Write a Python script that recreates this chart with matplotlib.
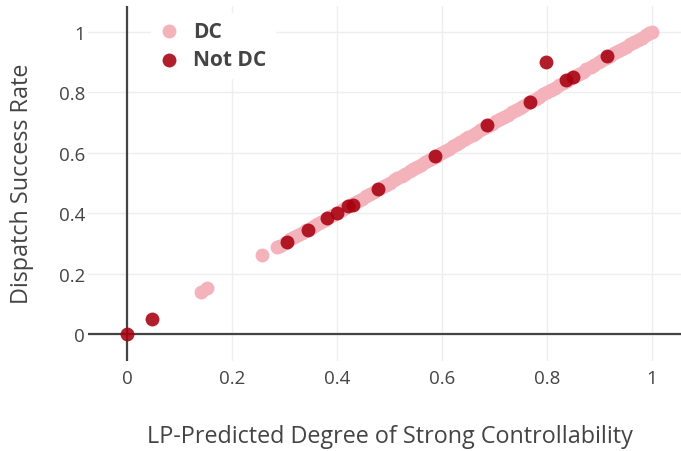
import matplotlib
matplotlib.use("Agg")
import matplotlib.pyplot as plt
from matplotlib.ticker import FuncFormatter

plt.rcParams["font.family"] = ["Open Sans", "DejaVu Sans"]

# DC instances: LP-predicted degree vs. dispatch success rate
dc_x = [0.140, 0.152, 0.258, 0.285, 0.292, 0.300, 0.310, 0.318, 0.325, 0.333,
        0.340, 0.350, 0.356, 0.362, 0.370, 0.377, 0.385, 0.392, 0.400, 0.410,
        0.415, 0.425, 0.432, 0.440, 0.447, 0.455, 0.463, 0.470, 0.478, 0.485,
        0.493, 0.500, 0.508, 0.515, 0.523, 0.530, 0.538, 0.545, 0.553, 0.560,
        0.568, 0.575, 0.583, 0.590, 0.598, 0.605, 0.613, 0.620, 0.628, 0.635,
        0.643, 0.650, 0.658, 0.665, 0.673, 0.680, 0.688, 0.695, 0.703, 0.710,
        0.718, 0.725, 0.733, 0.740, 0.748, 0.755, 0.763, 0.770, 0.778, 0.785,
        0.793, 0.800, 0.808, 0.815, 0.823, 0.830, 0.838, 0.845, 0.853, 0.860,
        0.868, 0.875, 0.883, 0.890, 0.898, 0.905, 0.913, 0.920, 0.928, 0.935,
        0.943, 0.950, 0.958, 0.965, 0.973, 0.980, 0.988, 0.995, 1.000]
dc_y = [0.140, 0.151, 0.261, 0.288, 0.293, 0.302, 0.313, 0.321, 0.328, 0.336,
        0.343, 0.352, 0.358, 0.364, 0.372, 0.379, 0.386, 0.393, 0.401, 0.411,
        0.416, 0.426, 0.433, 0.441, 0.448, 0.456, 0.464, 0.471, 0.479, 0.486,
        0.494, 0.501, 0.509, 0.516, 0.524, 0.531, 0.539, 0.546, 0.554, 0.561,
        0.569, 0.576, 0.584, 0.591, 0.599, 0.606, 0.614, 0.621, 0.629, 0.636,
        0.644, 0.651, 0.659, 0.666, 0.674, 0.681, 0.689, 0.696, 0.704, 0.711,
        0.719, 0.726, 0.734, 0.741, 0.749, 0.756, 0.764, 0.771, 0.779, 0.786,
        0.794, 0.801, 0.809, 0.816, 0.824, 0.831, 0.839, 0.846, 0.854, 0.861,
        0.869, 0.876, 0.884, 0.891, 0.899, 0.906, 0.914, 0.921, 0.929, 0.936,
        0.944, 0.951, 0.959, 0.966, 0.974, 0.981, 0.989, 0.996, 1.000]

# Not DC instances
ndc_x = [0.000, 0.048, 0.305, 0.345, 0.381, 0.400, 0.421, 0.430, 0.478,
         0.587, 0.686, 0.768, 0.797, 0.836, 0.850, 0.914]
ndc_y = [0.000, 0.050, 0.305, 0.343, 0.384, 0.400, 0.424, 0.427, 0.480,
         0.589, 0.692, 0.769, 0.901, 0.841, 0.851, 0.920]

ticks = [0, 0.2, 0.4, 0.6, 0.8, 1]
PINK = "#f4b2bb"
RED = "#a8000f"
TXT = "#444444"

fig = plt.figure(figsize=(6.81, 4.52), dpi=100)
ax = fig.add_axes([88 / 681, 90 / 452, 593 / 681, 355 / 452])

ax.scatter(dc_x, dc_y, s=100, color=PINK, linewidths=0, label="DC", zorder=3)
ax.scatter(ndc_x, ndc_y, s=100, color=RED, alpha=0.88, linewidths=0,
           label="Not DC", zorder=4)

ax.set_xlim(-0.0743, 1.055)
ax.set_ylim(-0.0894, 1.086)
ax.set_xticks(ticks)
ax.set_yticks(ticks)
fmt = FuncFormatter(lambda v, p: f"{v:g}")
ax.xaxis.set_major_formatter(fmt)
ax.yaxis.set_major_formatter(fmt)
ax.grid(True, color="#eeeeee", linewidth=1, zorder=0)
ax.set_axisbelow(True)
for sp in ax.spines.values():
    sp.set_visible(False)
ax.axhline(0, color=TXT, linewidth=1.6, zorder=1)
ax.axvline(0, color=TXT, linewidth=1.6, zorder=1)
ax.tick_params(length=0, labelsize=13.5, labelcolor=TXT)
ax.tick_params(axis="x", pad=6)
ax.tick_params(axis="y", pad=2)

ax.set_xlabel("LP-Predicted Degree of Strong Controllability", fontsize=16.8,
              color=TXT, va="center")
ax.xaxis.set_label_coords(0.51, -0.211)
ax.set_ylabel("Dispatch Success Rate", fontsize=16.8, color=TXT, va="center")
ax.yaxis.set_label_coords(-0.111, 0.503)

leg = ax.legend(loc="upper left", bbox_to_anchor=(0.088, 1.011), frameon=True,
                prop={"size": 15, "weight": "bold"}, handlelength=1.0,
                handletextpad=0.65, labelspacing=0.35, borderpad=0.4,
                scatterpoints=1)
leg.get_frame().set_facecolor("white")
leg.get_frame().set_edgecolor("white")
leg.get_frame().set_alpha(1)
leg.get_frame().set_boxstyle("square", pad=0)
for t in leg.get_texts():
    t.set_color(TXT)

fig.savefig("out.png", dpi=100)
